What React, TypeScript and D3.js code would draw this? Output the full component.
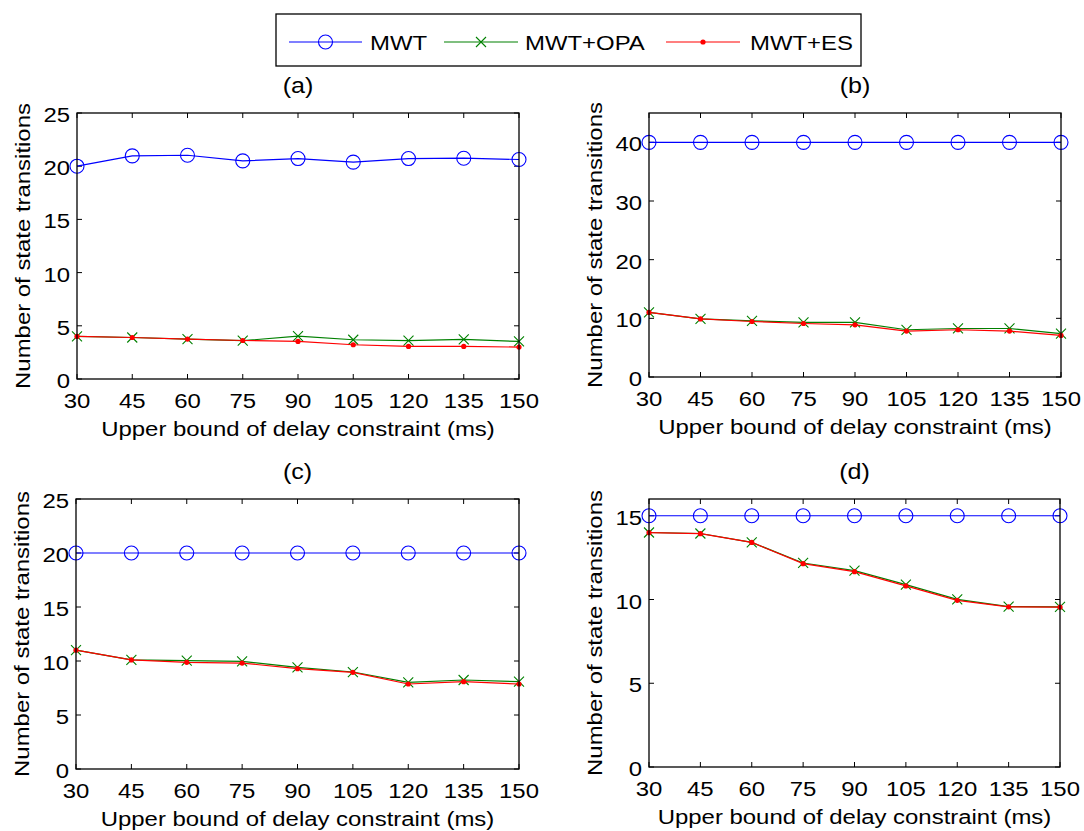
import React from 'react';
import * as d3 from 'd3';

// delay bound categories (ms)
const delays = [30, 45, 60, 75, 90, 105, 120, 135, 150];

// panel (a)
const mwtA = [20.0, 20.97, 21.03, 20.5, 20.72, 20.38, 20.72, 20.75, 20.63];
const opaA = [4.0, 3.9, 3.75, 3.6, 4.03, 3.69, 3.6, 3.72, 3.53];
const esA = [4.0, 3.9, 3.75, 3.62, 3.53, 3.22, 3.06, 3.06, 3.0];

// panel (b)
const mwtB = [40, 40, 40, 40, 40, 40, 40, 40, 40];
const opaB = [11.0, 9.9, 9.57, 9.3, 9.3, 8.05, 8.27, 8.27, 7.4];
const esB = [11.0, 9.9, 9.46, 9.12, 8.9, 7.82, 8.05, 7.82, 7.08];

// panel (c)
const mwtC = [20, 20, 20, 20, 20, 20, 20, 20, 20];
const opaC = [11.0, 10.1, 10.03, 9.97, 9.41, 8.98, 8.02, 8.24, 8.09];
const esC = [11.0, 10.1, 9.88, 9.81, 9.29, 8.95, 7.87, 8.09, 7.87];

// panel (d)
const mwtD = [15, 15, 15, 15, 15, 15, 15, 15, 15];
const opaD = [14.0, 13.94, 13.41, 12.18, 11.72, 10.89, 10.01, 9.58, 9.56];
const esD = [13.99, 13.93, 13.41, 12.14, 11.66, 10.81, 9.95, 9.56, 9.54];

const yTicksA = [0, 5, 10, 15, 20, 25];
const yTicksB = [0, 10, 20, 30, 40];
const yTicksC = [0, 5, 10, 15, 20, 25];
const yTicksD = [0, 5, 10, 15];

const seriesNames = ['MWT', 'MWT+OPA', 'MWT+ES'];
const colors = ['#0000ff', '#008000', '#ff0000'];

const font = 'Arial, "Liberation Sans", Helvetica, sans-serif';
const fs = 21;
const sx = 1.14; // the original text is a bit wider than Arial

type TProps = { x: number; y: number; anchor?: string; size?: number; rot?: boolean; children: React.ReactNode };

// text with a horizontal stretch
function T({ x, y, anchor = 'start', size = fs, rot = false, children }: TProps) {
  const tr = `translate(${x},${y})${rot ? ' rotate(-90)' : ''} scale(${sx},1)`;
  return <text transform={tr} textAnchor={anchor} fontSize={size}>{children}</text>;
}

type PanelProps = {
  title: string;
  x0: number; x1: number; y0: number; y1: number;
  yMax: number;
  yTicks: number[];
  mwt: number[]; opa: number[]; es: number[];
};

function Marker({ kind, x, y }: { kind: number; x: number; y: number }) {
  if (kind === 0) {
    return <circle cx={x} cy={y} r={7} fill="none" stroke={colors[0]} strokeWidth={1.1} />;
  }
  if (kind === 1) {
    return (
      <path
        d={`M${x - 5},${y - 5}L${x + 5},${y + 5}M${x - 5},${y + 5}L${x + 5},${y - 5}`}
        stroke={colors[1]}
        strokeWidth={1.1}
      />
    );
  }
  return <circle cx={x} cy={y} r={2.6} fill={colors[2]} />;
}

function Panel(p: PanelProps) {
  const x = d3.scalePoint<number>().domain(delays).range([p.x0, p.x1]);
  const y = d3.scaleLinear().domain([0, p.yMax]).range([p.y1, p.y0]);
  const line = d3.line<number>()
    .x((d, i) => x(delays[i]) as number)
    .y(d => y(d));
  const all = [p.mwt, p.opa, p.es];
  const cx = (p.x0 + p.x1) / 2;
  const cy = (p.y0 + p.y1) / 2;
  const tl = 5;
  return (
    <g>
      <T x={cx} y={p.y0 - 20} anchor="middle" size={22}>{p.title}</T>
      {/* ticks */}
      {delays.map(d => (
        <g key={'xt' + d}>
          <line x1={x(d)} x2={x(d)} y1={p.y1} y2={p.y1 - tl} stroke="#000" />
          <line x1={x(d)} x2={x(d)} y1={p.y0} y2={p.y0 + tl} stroke="#000" />
          <T x={x(d) as number} y={p.y1 + 29} anchor="middle">{d}</T>
        </g>
      ))}
      {p.yTicks.map(t => (
        <g key={'yt' + t}>
          <line x1={p.x0} x2={p.x0 + tl} y1={y(t)} y2={y(t)} stroke="#000" />
          <line x1={p.x1} x2={p.x1 - tl} y1={y(t)} y2={y(t)} stroke="#000" />
          <T x={p.x0 - 7} y={y(t) + 9} anchor="end">{t}</T>
        </g>
      ))}
      {all.map((s, k) => (
        <g key={'s' + k}>
          <path d={line(s) || ''} fill="none" stroke={colors[k]} strokeWidth={1.2} />
          {s.map((v, i) => (
            <Marker key={i} kind={k} x={x(delays[i]) as number} y={y(v)} />
          ))}
        </g>
      ))}
      <rect x={p.x0} y={p.y0} width={p.x1 - p.x0} height={p.y1 - p.y0} fill="none" stroke="#000" strokeWidth={1.3} />
      <T x={cx} y={p.y1 + 57} anchor="middle">Upper bound of delay constraint (ms)</T>
      <T x={p.x0 - 47} y={cy} anchor="middle" rot>Number of state transitions</T>
    </g>
  );
}

function Legend() {
  const items = [
    { x0: 289, x1: 362, tx: 370 },
    { x0: 444, x1: 518, tx: 525 },
    { x0: 666, x1: 740, tx: 750 },
  ];
  const ly = 42;
  return (
    <g>
      <rect x={276} y={14} width={585} height={52} fill="#fff" stroke="#000" strokeWidth={1.3} />
      {items.map((it, k) => (
        <g key={k}>
          <line x1={it.x0} x2={it.x1} y1={ly} y2={ly} stroke={colors[k]} strokeWidth={1.2} />
          <Marker kind={k} x={(it.x0 + it.x1) / 2} y={ly} />
          <T x={it.tx} y={ly + 8}>{seriesNames[k]}</T>
        </g>
      ))}
    </g>
  );
}

export default function App() {
  return (
    <svg
      width={1084}
      height={831}
      style={{ position: 'absolute', left: 0, top: 0, background: '#fff' }}
      fontFamily={font}
    >
      <rect width={1084} height={831} fill="#fff" />
      <Panel title="(a)" x0={77} x1={519} y0={113} y1={379} yMax={25} yTicks={yTicksA} mwt={mwtA} opa={opaA} es={esA} />
      <Panel title="(b)" x0={649} x1={1061} y0={113} y1={377} yMax={45} yTicks={yTicksB} mwt={mwtB} opa={opaB} es={esB} />
      <Panel title="(c)" x0={76} x1={519} y0={499} y1={769} yMax={25} yTicks={yTicksC} mwt={mwtC} opa={opaC} es={esC} />
      <Panel title="(d)" x0={649} x1={1060} y0={499} y1={767} yMax={16} yTicks={yTicksD} mwt={mwtD} opa={opaD} es={esD} />
      <Legend />
    </svg>
  );
}
